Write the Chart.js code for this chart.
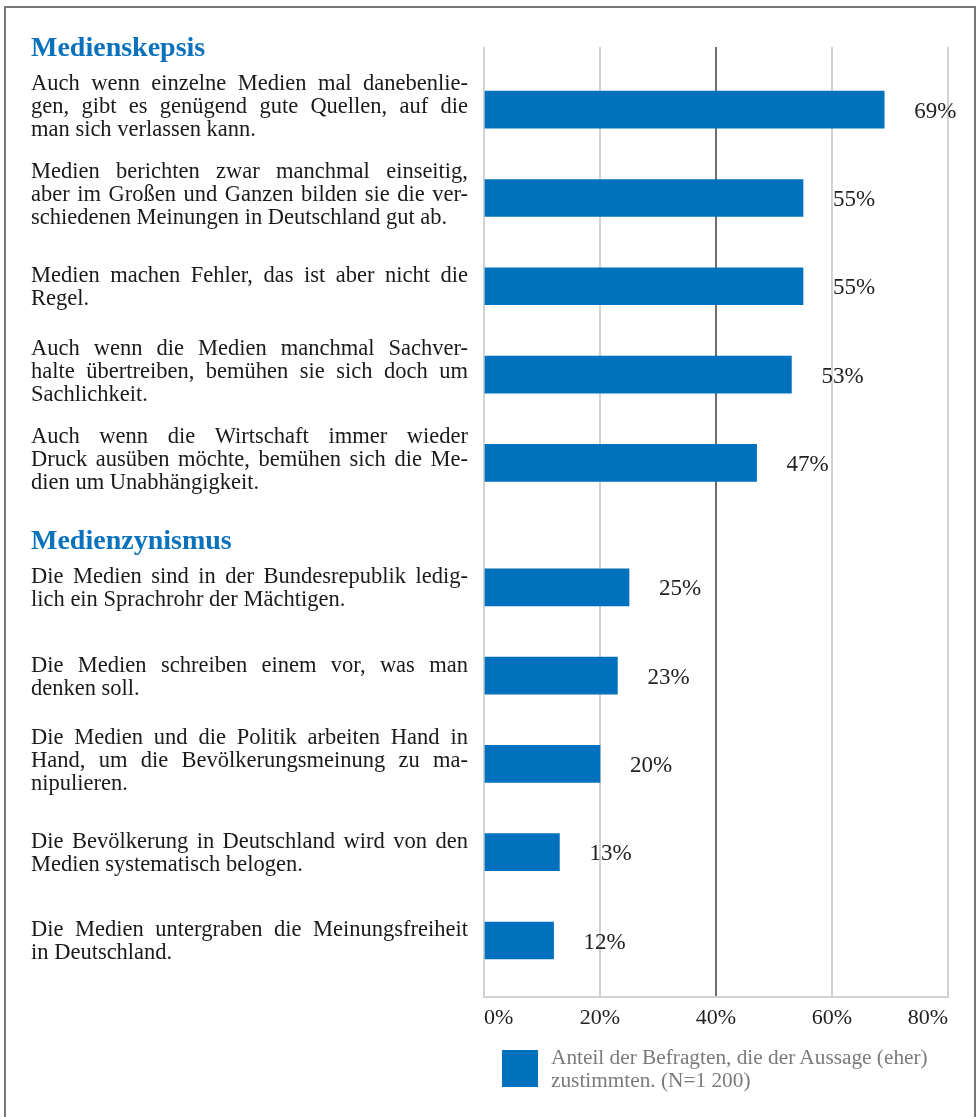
<!DOCTYPE html>
<html>
<head>
<meta charset="utf-8">
<script src="https://cdn.jsdelivr.net/npm/chart.js@4.4.0/dist/chart.umd.min.js"></script>
<style>
  html, body { margin: 0; padding: 0; background: #fff; }
  body { width: 980px; height: 1117px; position: relative; overflow: hidden; font-family: "Liberation Serif", "Times New Roman", serif; }
  #frame { position: absolute; left: 4px; top: 6px; width: 972px; height: 1200px; border: 2.5px solid #777; border-bottom: none; box-sizing: border-box; }
  #c { position: absolute; left: 0; top: 0; }
  .item { position: absolute; left: 31px; width: 437px; color: #1a1a1a; font-size: 22.5px; line-height: 23px; }
  .item .ln { display: flex; justify-content: space-between; white-space: nowrap; height: 23px; }
  .item .ln.last { justify-content: flex-start; }
  .item .ln.last span { margin-right: 0.25em; }
  .head { position: absolute; left: 31px; color: #0a72bd; font-weight: bold; font-size: 28px; line-height: 30px; transform: translateY(-50%); white-space: nowrap; }
  #legend { position: absolute; left: 502px; top: 1050px; }
  #legend .sq { position: absolute; left: 0; top: 0; width: 36px; height: 37px; background: #0071bc; }
  #legend .txt { position: absolute; left: 49px; top: -4px; width: 420px; color: #7a7a7a; font-size: 21.3px; line-height: 23px; white-space: nowrap; }
</style>
</head>
<body>
<div id="frame"></div>
<canvas id="c" width="980" height="1117"></canvas>
<div id="labels"></div>
<div id="legend"><div class="sq"></div><div class="txt">Anteil der Befragten, die der Aussage (eher)<br>zustimmten. (N=1 200)</div></div>
<script>
// ---- data ----
const groupTitles = ["Medienskepsis", "Medienzynismus"];
const categories = [
  ["Auch wenn einzelne Medien mal danebenlie-", "gen, gibt es genügend gute Quellen, auf die", "man sich verlassen kann."],
  ["Medien berichten zwar manchmal einseitig,", "aber im Großen und Ganzen bilden sie die ver-", "schiedenen Meinungen in Deutschland gut ab."],
  ["Medien machen Fehler, das ist aber nicht die", "Regel."],
  ["Auch wenn die Medien manchmal Sachver-", "halte übertreiben, bemühen sie sich doch um", "Sachlichkeit."],
  ["Auch wenn die Wirtschaft immer wieder", "Druck ausüben möchte, bemühen sich die Me-", "dien um Unabhängigkeit."],
  ["Die Medien sind in der Bundesrepublik ledig-", "lich ein Sprachrohr der Mächtigen."],
  ["Die Medien schreiben einem vor, was man", "denken soll."],
  ["Die Medien und die Politik arbeiten Hand in", "Hand, um die Bevölkerungsmeinung zu ma-", "nipulieren."],
  ["Die Bevölkerung in Deutschland wird von den", "Medien systematisch belogen."],
  ["Die Medien untergraben die Meinungsfreiheit", "in Deutschland."]
];
const groupOfItem = [0, 0, 0, 0, 0, 1, 1, 1, 1, 1];
const values = [69, 55, 55, 53, 47, 25, 23, 20, 13, 12];
const xTicks = [0, 20, 40, 60, 80];
const seriesLabel = "Anteil der Befragten, die der Aussage (eher) zustimmten. (N=1 200)";

// ---- layout helpers ----
const GROUP_GAP = 0.41;
const rowPos = categories.map((_, i) => i + groupOfItem[i] * GROUP_GAP);
const points = values.map((v, i) => ({ x: v, y: rowPos[i] }));

const valueLabelPlugin = {
  id: 'valueLabels',
  afterDatasetsDraw(chart) {
    const ctx = chart.ctx;
    const meta = chart.getDatasetMeta(0);
    ctx.save();
    ctx.font = '23px "Liberation Serif", serif';
    ctx.fillStyle = '#222';
    ctx.textAlign = 'left';
    ctx.textBaseline = 'middle';
    meta.data.forEach((bar, i) => {
      ctx.fillText(values[i] + '%', bar.x + 30, bar.y + 2);
    });
    ctx.restore();
  }
};

const chart = new Chart(document.getElementById('c'), {
  type: 'bar',
  data: {
    datasets: [{
      label: seriesLabel,
      data: points,
      backgroundColor: '#0071bc',
      borderWidth: 0,
      barThickness: 37
    }]
  },
  options: {
    indexAxis: 'y',
    responsive: false,
    animation: false,
    devicePixelRatio: 1,
    layout: { padding: { left: 484, right: 32, top: 47, bottom: 80 } },
    plugins: { legend: { display: false }, tooltip: { enabled: false } },
    scales: {
      y: { type: 'linear', display: false, reverse: true, offset: false, min: -0.71, max: 10.05 },
      x: {
        type: 'linear', min: 0, max: 80,
        afterFit: (s) => { s.height = 40; },
        afterBuildTicks: (s) => { s.ticks = xTicks.map(v => ({ value: v })); },
        ticks: {
          align: 'inner',
          padding: 8,
          color: '#222',
          font: { family: '"Liberation Serif", serif', size: 22 },
          callback: (v) => v + '%'
        },
        grid: {
          drawTicks: false,
          lineWidth: 2,
          color: (ctx) => (ctx.tick && ctx.tick.value === 40) ? '#6e6e6e' : '#d2d2d2'
        },
        border: { display: true, color: '#d2d2d2', width: 2 }
      }
    }
  },
  plugins: [valueLabelPlugin]
});

// ---- left-hand text, aligned to bar positions ----
const host = document.getElementById('labels');
const yScale = chart.scales.y;
const blockTop = [];
categories.forEach((lines, i) => {
  const cy = yScale.getPixelForValue(rowPos[i]);
  const div = document.createElement('div');
  div.className = 'item';
  lines.forEach((ln, j) => {
    const d = document.createElement('div');
    d.className = 'ln' + (j === lines.length - 1 ? ' last' : '');
    ln.split(' ').forEach((w) => {
      const s = document.createElement('span');
      s.textContent = w;
      d.appendChild(s);
    });
    div.appendChild(d);
  });
  const h = lines.length * 23;
  const top = cy - h / 2 - (lines.length - 2) * 4;
  blockTop[i] = top;
  div.style.top = top + 'px';
  host.appendChild(div);
});
groupTitles.forEach((t, g) => {
  const first = groupOfItem.indexOf(g);
  const d = document.createElement('div');
  d.className = 'head';
  d.textContent = t;
  d.style.top = (blockTop[first] - 24) + 'px';
  host.appendChild(d);
});
</script>
</body>
</html>
